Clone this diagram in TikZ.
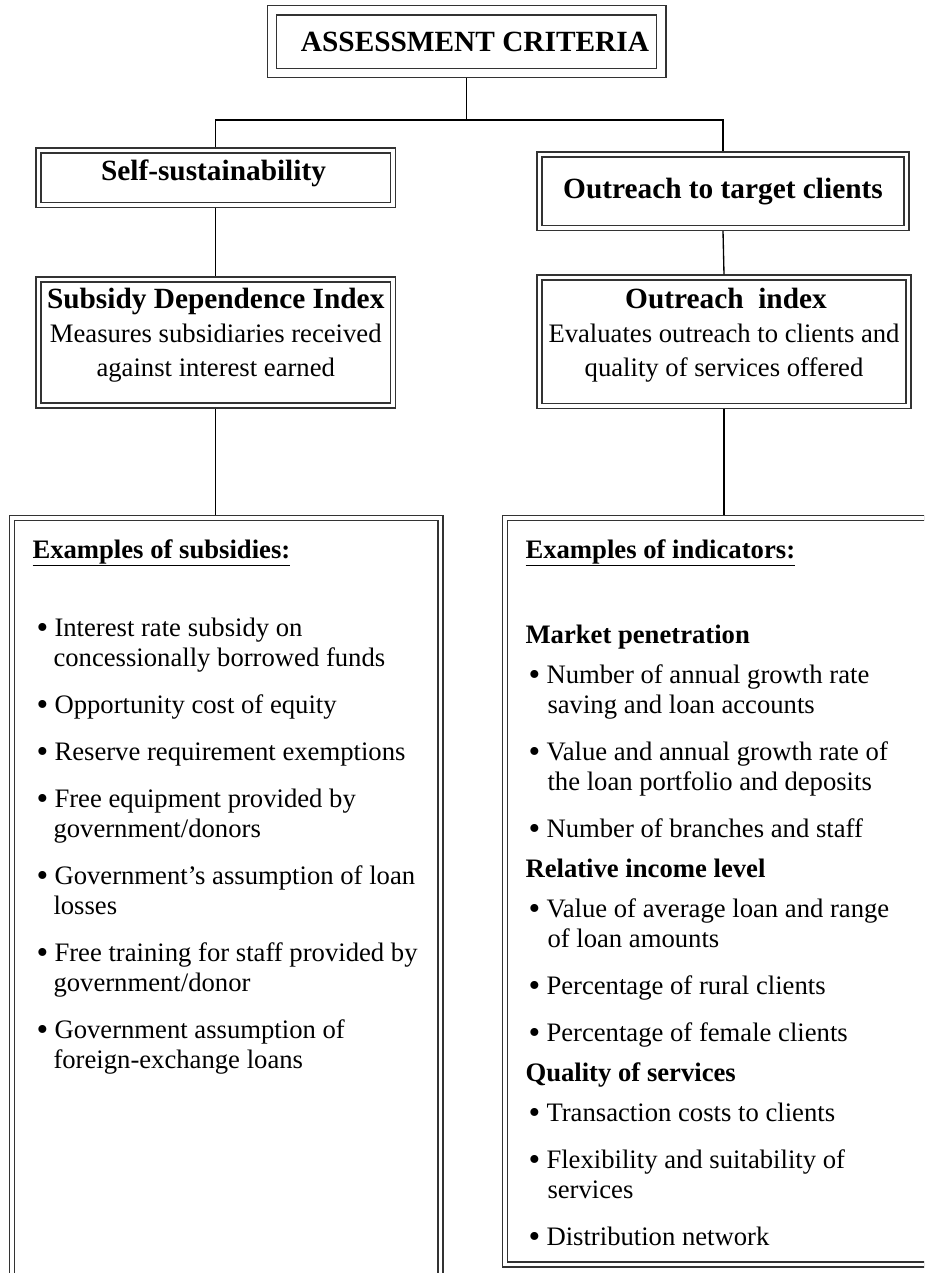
\documentclass[tikz,border=0pt]{standalone}
\usepackage{fontspec}
\setmainfont{Liberation Serif}
\usetikzlibrary{positioning}

\tikzset{every picture/.style={line width=0.75pt}}
\tikzset{
  dblbox/.style={draw=black!80, double=white, double distance=2.8pt, line width=0.9pt, inner sep=0pt, outer sep=2.3pt},
  critbox/.style={dblbox, double distance=6pt, outer sep=3.9pt},
  link/.style={draw=black, line width=1pt},
  hd/.style={font=\fontsize{22}{26}\selectfont\bfseries, inner sep=0pt, anchor=base},
  bodyc/.style={font=\fontsize{20}{24}\selectfont, inner sep=0pt, anchor=base},
  txt/.style={font=\fontsize{20}{24}\selectfont, inner sep=0pt, anchor=base west},
  subhd/.style={txt, font=\fontsize{20}{24}\selectfont\bfseries}
}
\newcommand{\bul}{\makebox[13.5pt][l]{\raisebox{-1.6pt}{\fontsize{25}{20}\selectfont\textbullet}}}

\begin{document}
\begin{tikzpicture}[x=0.75pt,y=0.75pt,yscale=-1,xscale=1]
\path[use as bounding box] (0,0) rectangle (924,1273);
\clip (0,0) rectangle (924,1273);

%Boxes
\node [critbox, minimum width=292.1pt, minimum height=46.9pt] (crit) at (466.75,41.75) {};
\node [dblbox, minimum width=265.9pt, minimum height=40.9pt] (self) at (215.75,177.75) {};
\node [dblbox, minimum width=275.25pt, minimum height=55.1pt] (outr) at (723,191.25) {};
\node [dblbox, minimum width=265.9pt, minimum height=94.5pt] (sdi) at (215.75,342.5) {};
\node [dblbox, minimum width=276.75pt, minimum height=96.4pt] (oidx) at (724,341.75) {};
\node [dblbox, minimum width=321.4pt, minimum height=586.5pt] (subs) at (226.25,909) {};
\node [dblbox, minimum width=320.25pt, minimum height=559.9pt] (inds) at (718.5,891.25) {};

%Connectors
\coordinate (bar) at (0,120);
\draw [link] (crit.south) -- (crit.south |- bar);
\draw [link] (self.north) -- (self.north |- bar) -- (outr.north |- bar) -- (outr.north);
\draw [link] (self.south) -- (sdi.north);
\draw [link] (outr.south) -- (oidx.north);
\draw [link] (sdi.south) -- (sdi.south |- subs.north);
\draw [link] (oidx.south) -- (oidx.south |- inds.north);

% Box labels
\node [hd] (critlbl) at (475,52) {ASSESSMENT CRITERIA};
\node [hd] (selflbl) at (213.5,181) {Self-sustainability};
\node [hd] (outrlbl) at (723,199) {Outreach to target clients};
\node [hd] (sditit) at (215.75,308) {Subsidy Dependence Index};
\node [bodyc] (sdione) at (215.75,342) {Measures subsidiaries received};
\node [bodyc] (sditwo) at (215.75,376) {against interest earned};
\node [hd] (oidxtit) at (726,308) {Outreach\ \ index};
\node [bodyc] (oidxone) at (724,342) {Evaluates outreach to clients and};
\node [bodyc] (oidxtwo) at (724,376) {quality of services offered};

% Examples of subsidies
\node [subhd] (subshd) at (32,558) {\underline{Examples of subsidies:}};
\node [txt] (sa) at (36,636) {\bul Interest rate subsidy on};
\node [txt] (sab) at (53,666) {concessionally borrowed funds};
\node [txt] (sb) at (36,713) {\bul Opportunity cost of equity};
\node [txt] (sc) at (36,760) {\bul Reserve requirement exemptions};
\node [txt] (sd) at (36,807) {\bul Free equipment provided by};
\node [txt] (sdb) at (53,837) {government/donors};
\node [txt] (se) at (36,884) {\bul Government's assumption of loan};
\node [txt] (seb) at (53,914) {losses};
\node [txt] (sf) at (36,961) {\bul Free training for staff provided by};
\node [txt] (sfb) at (53,991) {government/donor};
\node [txt] (sg) at (36,1038) {\bul Government assumption of};
\node [txt] (sgb) at (53,1068) {foreign-exchange loans};

% Examples of indicators
\node [subhd] (indshd) at (525,558) {\underline{Examples of indicators:}};
\node [subhd] (mkt) at (525,643) {Market penetration};
\node [txt] (ma) at (528,683) {\bul Number of annual growth rate};
\node [txt] (mab) at (547,713) {saving and loan accounts};
\node [txt] (mb) at (528,760) {\bul Value and annual growth rate of};
\node [txt] (mbb) at (547,790) {the loan portfolio and deposits};
\node [txt] (mc) at (528,837) {\bul Number of branches and staff};
\node [subhd] (rel) at (525,877) {Relative income level};
\node [txt] (ra) at (528,917) {\bul Value of average loan and range};
\node [txt] (rab) at (547,947) {of loan amounts};
\node [txt] (rb) at (528,994) {\bul Percentage of rural clients};
\node [txt] (rc) at (528,1041) {\bul Percentage of female clients};
\node [subhd] (qual) at (525,1081) {Quality of services};
\node [txt] (qa) at (528,1121) {\bul Transaction costs to clients};
\node [txt] (qb) at (528,1168) {\bul Flexibility and suitability of};
\node [txt] (qbb) at (547,1198) {services};
\node [txt] (qc) at (528,1245) {\bul Distribution network};

\end{tikzpicture}
\end{document}
